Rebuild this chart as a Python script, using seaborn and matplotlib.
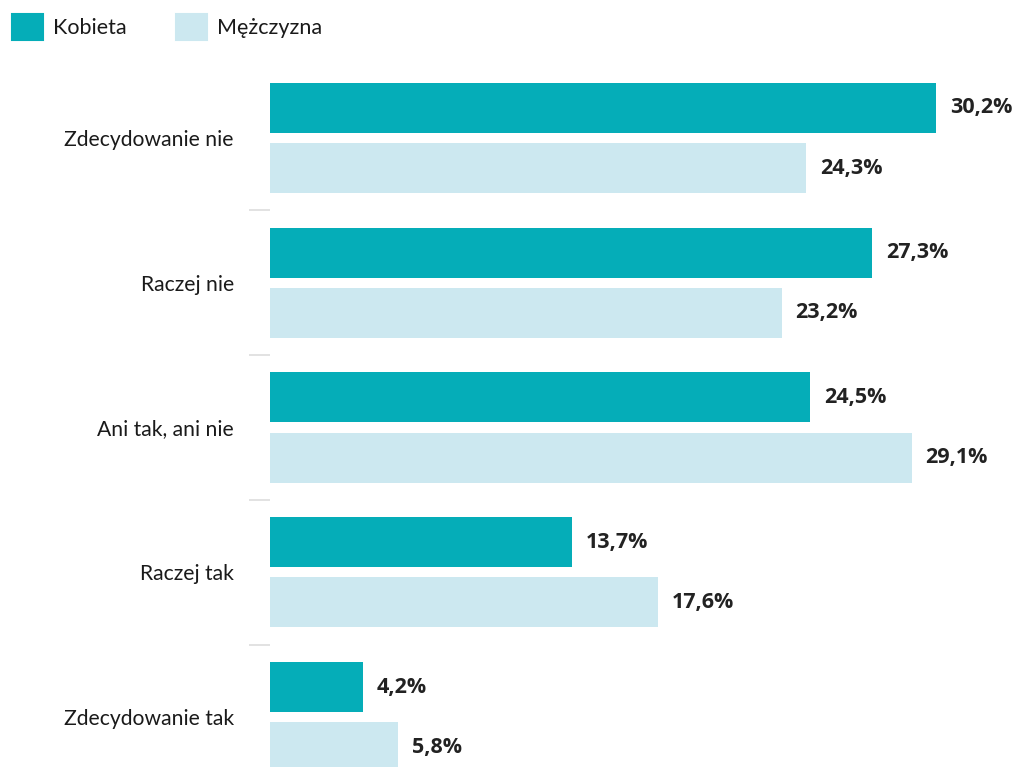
import pandas as pd
import matplotlib.pyplot as plt
import seaborn as sns
from matplotlib.patches import Patch

categories = ["Zdecydowanie nie", "Raczej nie", "Ani tak, ani nie", "Raczej tak", "Zdecydowanie tak"]
series = ["Kobieta", "Mężczyzna"]
kobieta = [30.2, 27.3, 24.5, 13.7, 4.2]
mezczyzna = [24.3, 23.2, 29.1, 17.6, 5.8]
colors = ["#05adb8", "#cce8f0"]

df = pd.DataFrame({
    "kategoria": categories * 2,
    "płeć": [series[0]] * len(categories) + [series[1]] * len(categories),
    "wartość": kobieta + mezczyzna,
})

sns.set_theme(style="white")
plt.rcParams['font.family'] = ['Lato', 'DejaVu Sans']

fig = plt.figure(figsize=(10.16, 7.67), dpi=100)
ax = fig.add_axes([270 / 1016, 0, 746 / 1016, 1])

sns.barplot(data=df, y="kategoria", x="wartość", hue="płeć", orient="h",
            palette=colors, width=0.83, gap=0.167, legend=False, ax=ax,
            order=categories, hue_order=series, saturation=1, linewidth=0)

for cont in ax.containers:
    labels = [f"{v:.1f}".replace(".", ",") + "%" for v in cont.datavalues]
    ax.bar_label(cont, labels=labels, padding=10, fontsize=15.5,
                 fontweight="bold", color="#222222", family=["Open Sans"])

ax.set_xlim(0, 746 / 22.05)
ax.set_ylim(4.345, -0.953)
ax.set_xlabel("")
ax.set_ylabel("")
ax.set_xticks([])
sns.despine(ax=ax, left=True, bottom=True)

ax.set_yticks(range(len(categories)))
ax.set_yticklabels(categories, fontsize=15.2, color="#1a1a1a")
ax.set_yticks([i + 0.5 for i in range(len(categories) - 1)], minor=True)
ax.tick_params(axis="y", which="major", length=0, pad=26)
ax.tick_params(axis="y", which="minor", length=15, width=1.2, color="#dddddd", left=True)

handles = [Patch(facecolor=c, edgecolor=c, linewidth=1.5, joinstyle="round") for c in colors]
fig.legend(handles, series, loc="upper left", bbox_to_anchor=(12 / 1016, 1 - 14 / 767),
           frameon=False, ncol=2, fontsize=15.5, handlelength=1.45, handleheight=1.45,
           handletextpad=0.45, columnspacing=2.3, borderpad=0, borderaxespad=0,
           labelcolor="#1a1a1a")

fig.savefig("out.png", dpi=100)
